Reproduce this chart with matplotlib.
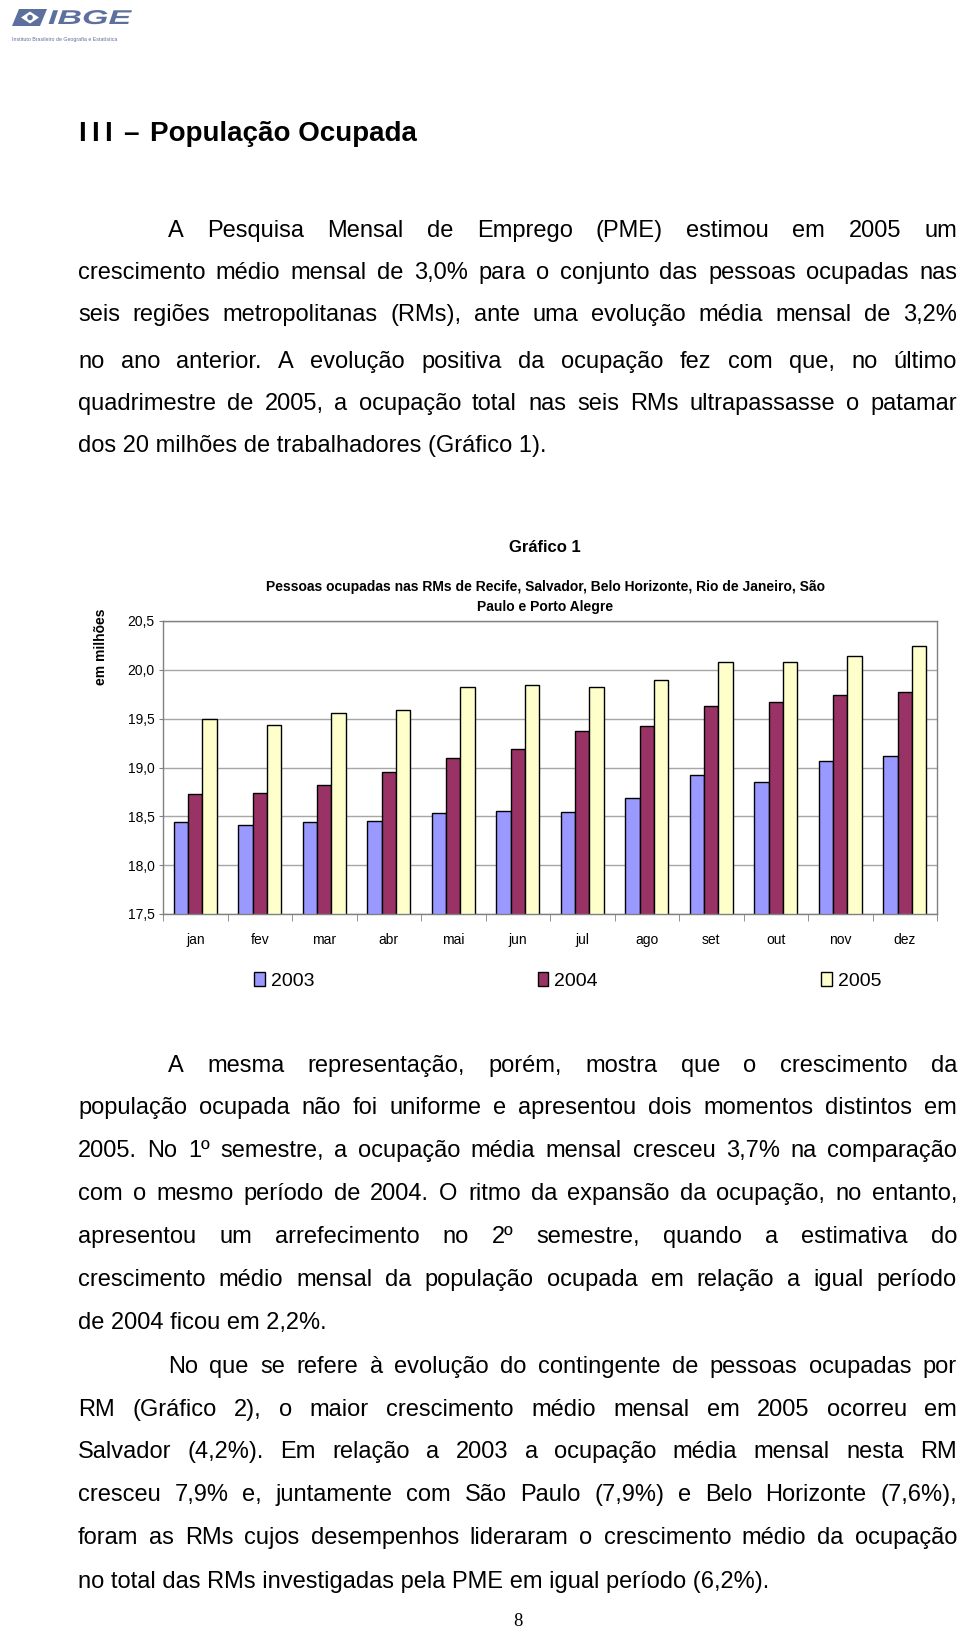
import numpy as np
import matplotlib
matplotlib.use("Agg")
import matplotlib.pyplot as plt
from matplotlib.patches import Polygon, Circle, PathPatch
from matplotlib.font_manager import FontProperties
from matplotlib.textpath import TextPath
from matplotlib.transforms import Affine2D

# ---- dados do gráfico 1 (em milhões) ----
meses = ["jan", "fev", "mar", "abr", "mai", "jun", "jul", "ago", "set", "out", "nov", "dez"]
anos = ["2003", "2004", "2005"]
ocup_2003 = [18.44, 18.41, 18.44, 18.455, 18.53, 18.55, 18.545, 18.69, 18.92, 18.85, 19.07, 19.12]
ocup_2004 = [18.725, 18.735, 18.82, 18.95, 19.10, 19.19, 19.37, 19.43, 19.63, 19.67, 19.745, 19.77]
ocup_2005 = [19.50, 19.435, 19.56, 19.585, 19.825, 19.84, 19.82, 19.90, 20.08, 20.085, 20.14, 20.24]
y_ticks = [17.5, 18.0, 18.5, 19.0, 19.5, 20.0, 20.5]
y_labels = ["17,5", "18,0", "18,5", "19,0", "19,5", "20,0", "20,5"]
cores = ["#9999ff", "#993366", "#ffffcc"]

# ---- texto da página ----
titulo_secao = "População Ocupada"
par1 = [
    "A Pesquisa Mensal de Emprego (PME) estimou em 2005 um",
    "crescimento médio mensal de 3,0% para o conjunto das pessoas ocupadas nas",
    "seis regiões metropolitanas (RMs), ante uma evolução média mensal de 3,2%",
    "no ano anterior. A evolução positiva da ocupação fez com que, no último",
    "quadrimestre de 2005, a ocupação total nas seis RMs ultrapassasse o patamar",
    "dos 20 milhões de trabalhadores (Gráfico 1).",
]
par2 = [
    "A mesma representação, porém, mostra que o crescimento da",
    "população ocupada não foi uniforme e apresentou dois momentos distintos em",
    "2005. No 1º semestre, a ocupação média mensal cresceu 3,7% na comparação",
    "com o mesmo período de 2004. O ritmo da expansão da ocupação, no entanto,",
    "apresentou um arrefecimento no 2º semestre, quando a estimativa do",
    "crescimento médio mensal da população ocupada em relação a igual período",
    "de 2004 ficou em 2,2%.",
]
par3 = [
    "No que se refere à evolução do contingente de pessoas ocupadas por",
    "RM (Gráfico 2), o maior crescimento médio mensal em 2005 ocorreu em",
    "Salvador (4,2%). Em relação a 2003 a ocupação média mensal nesta RM",
    "cresceu 7,9% e, juntamente com São Paulo (7,9%) e Belo Horizonte (7,6%),",
    "foram as RMs cujos desempenhos lideraram o crescimento médio da ocupação",
    "no total das RMs investigadas pela PME em igual período (6,2%).",
]
y_par1 = [237, 279, 321, 368, 410, 452]
y_par2 = [1072, 1114, 1157, 1200, 1243, 1286, 1329]
y_par3 = [1373, 1416, 1458, 1501, 1544, 1588]

W, H = 960, 1637
plt.rcParams['font.family'] = ['Liberation Sans', 'DejaVu Sans']
fig = plt.figure(figsize=(W / 100, H / 100), dpi=100)
renderer = fig.canvas.get_renderer()


def fx(x):
    return x / W


def fy(y):
    return 1 - y / H


body_fp = FontProperties(family='Liberation Sans', size=17)
LEFT, RIGHT, INDENT = 78, 957, 168


def paragrafo(linhas, ys):
    for k, (linha, y) in enumerate(zip(linhas, ys)):
        x0 = INDENT if k == 0 else LEFT
        if k == len(linhas) - 1:
            fig.text(fx(x0), fy(y), linha, fontproperties=body_fp, va='baseline')
            continue
        palavras = linha.split()
        larg = [renderer.get_text_width_height_descent(p, body_fp, ismath=False)[0]
                for p in palavras]
        gap = (RIGHT - x0 - sum(larg)) / (len(palavras) - 1)
        x = x0
        for p, wd in zip(palavras, larg):
            fig.text(fx(x), fy(y), p, fontproperties=body_fp, va='baseline')
            x += wd + gap


# logo IBGE
azul_logo = "#5d6f9c"
emb = Polygon([(12, H - 26), (19, H - 9), (47, H - 9), (40, H - 26)],
              closed=True, transform=None, facecolor=azul_logo, edgecolor='none')
fig.add_artist(emb)
diam = Polygon([(21, H - 17.5), (30, H - 11.5), (39, H - 17.5), (30, H - 23.5)],
               closed=True, transform=None, facecolor='white', edgecolor='none')
fig.add_artist(diam)
fig.add_artist(Circle((30, H - 17.5), 2.8, transform=None, facecolor=azul_logo, edgecolor='none'))
tp = TextPath((0, 0), "IBGE", size=20,
              prop=FontProperties(family='Liberation Sans', weight='bold', style='italic'))
fig.add_artist(PathPatch(tp, transform=Affine2D().scale(1.7, 1.0).translate(48, H - 24),
                         facecolor=azul_logo, edgecolor='none'))
fig.text(fx(12), fy(41), "Instituto Brasileiro de Geografia e Estatística",
         fontsize=3.8, color=azul_logo, va='baseline')

# título da seção
for xi in (78, 91, 104):
    fig.text(fx(xi), fy(141), "I", fontsize=20, weight='bold', va='baseline')
fig.text(fx(123), fy(141), "–", fontsize=20, weight='bold', va='baseline')
fig.text(fx(150), fy(141), titulo_secao, fontsize=20, weight='bold', va='baseline')

paragrafo(par1, y_par1)
paragrafo(par2, y_par2)
paragrafo(par3, y_par3)

# ---- gráfico ----
fig.text(fx(545), fy(547), "Gráfico 1", fontsize=12, weight='bold', ha='center', va='center')
fig.text(fx(545), fy(597),
         "Pessoas ocupadas nas RMs de Recife, Salvador, Belo Horizonte, Rio de Janeiro, São\nPaulo e Porto Alegre",
         fontsize=10, weight='bold', ha='center', va='center', linespacing=1.5)
fig.text(fx(101), fy(647), "em milhões", fontsize=10, weight='bold', rotation=90,
         ha='center', va='center')

ax = fig.add_axes([fx(163), fy(914), (937 - 163) / W, (914 - 621) / H])
x = np.arange(len(meses))
w = 0.222
barras = []
for i, (vals, cor) in enumerate(zip([ocup_2003, ocup_2004, ocup_2005], cores)):
    b = ax.bar(x + (i - 1) * w, vals, width=w, color=cor, edgecolor='black', linewidth=1.0)
    barras.append(b)

ax.set_xlim(-0.5, len(meses) - 0.5)
ax.set_ylim(17.5, 20.5)
ax.set_yticks(y_ticks)
ax.set_yticklabels(y_labels, fontsize=10)
ax.set_xticks(x)
ax.set_xticklabels(meses, fontsize=10)
ax.set_xticks(np.arange(-0.5, len(meses), 1), minor=True)
ax.tick_params(axis='x', which='major', length=0, pad=14)
ax.tick_params(axis='x', which='minor', length=5, color='#808080', direction='out')
ax.tick_params(axis='y', length=3, color='#808080', pad=3)
ax.yaxis.grid(True, color='#a6a6a6', linewidth=1.0)
ax.set_axisbelow(True)
for s in ax.spines.values():
    s.set_color('#808080')
    s.set_linewidth(1.0)

fig.legend(barras, anos, loc='center left', bbox_to_anchor=(fx(254), fy(981)),
           ncol=3, frameon=False, fontsize=14, borderpad=0, borderaxespad=0,
           handlelength=0.55, handleheight=0.7, handletextpad=0.3, columnspacing=11.5)

# número da página
fig.text(fx(518), fy(1622), "8", fontsize=13.5, family='Liberation Serif',
         ha='center', va='center')

fig.savefig("out.png", dpi=100)
